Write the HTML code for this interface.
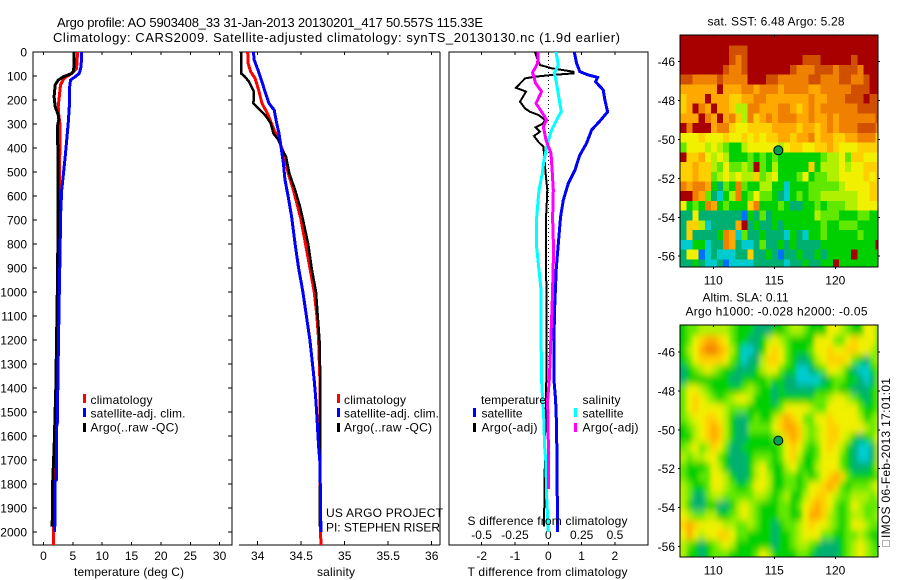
<!DOCTYPE html>
<html>
<head>
<meta charset="utf-8">
<title>Argo profile 5903408_33</title>
<style>
html,body{margin:0;padding:0;background:#fff;}
svg{display:block;}
text{font-family:"Liberation Sans",sans-serif;font-size:12px;fill:#000;}
.ttl{font-size:13px;}
</style>
</head>
<body>
<svg id="chart" xmlns="http://www.w3.org/2000/svg" width="900" height="580" viewBox="0 0 900 580">
  <rect x="0" y="0" width="900" height="580" fill="#fff"/>
  <defs>
    <clipPath id="clipA"><rect x="680" y="35" width="198" height="232"/></clipPath>
    <clipPath id="clipB"><rect x="680" y="325" width="198" height="232"/></clipPath>
    <filter id="smooth" x="-10%" y="-10%" width="120%" height="120%"><feGaussianBlur stdDeviation="2.5 3.8"/></filter>
  </defs>
  <text class="ttl" x="57" y="27" textLength="426" lengthAdjust="spacing">Argo profile: AO 5903408_33 31-Jan-2013 20130201_417 50.557S 115.33E</text>
  <text class="ttl" x="53" y="42" textLength="567" lengthAdjust="spacing">Climatology: CARS2009. Satellite-adjusted climatology: synTS_20130130.nc (1.9d earlier)</text>

  <g id="marks"></g>

  <!-- temperature panel labels -->
  <text x="74" y="576" textLength="110" lengthAdjust="spacing">temperature (deg C)</text>
  <rect x="83" y="394" width="3" height="9" fill="#f00"/>
  <text x="90.5" y="404" textLength="62" lengthAdjust="spacing">climatology</text>
  <rect x="83" y="408" width="3" height="9" fill="#00f"/>
  <text x="90.5" y="417.5" textLength="95" lengthAdjust="spacing">satellite-adj. clim.</text>
  <rect x="83" y="423" width="3" height="9" fill="#000"/>
  <text x="90.5" y="431.5" textLength="88" lengthAdjust="spacing">Argo(..raw -QC)</text>

  <!-- salinity panel labels -->
  <text x="317" y="576" textLength="38" lengthAdjust="spacing">salinity</text>
  <rect x="337" y="394" width="3" height="9" fill="#f00"/>
  <text x="344" y="404" textLength="62" lengthAdjust="spacing">climatology</text>
  <rect x="337" y="408" width="3" height="9" fill="#00f"/>
  <text x="344" y="417.5" textLength="95" lengthAdjust="spacing">satellite-adj. clim.</text>
  <rect x="337" y="423" width="3" height="9" fill="#000"/>
  <text x="344" y="431.5" textLength="88" lengthAdjust="spacing">Argo(..raw -QC)</text>
  <text x="326" y="517" textLength="117" lengthAdjust="spacing">US ARGO PROJECT</text>
  <text x="326" y="531.5" textLength="114" lengthAdjust="spacing">PI: STEPHEN RISER</text>

  <!-- difference panel labels -->
  <text x="481" y="404" textLength="65" lengthAdjust="spacing">temperature</text>
  <rect x="473" y="408" width="3" height="9" fill="#00f"/>
  <text x="481.5" y="417.5" textLength="41" lengthAdjust="spacing">satellite</text>
  <rect x="473" y="423" width="3" height="9" fill="#000"/>
  <text x="481.5" y="431.5" textLength="56" lengthAdjust="spacing">Argo(-adj)</text>
  <text x="582.5" y="404" textLength="38" lengthAdjust="spacing">salinity</text>
  <rect x="574" y="408" width="3" height="9" fill="#0ff"/>
  <text x="582.5" y="417.5" textLength="41" lengthAdjust="spacing">satellite</text>
  <rect x="574" y="423" width="3" height="9" fill="#f0f"/>
  <text x="582.5" y="431.5" textLength="56" lengthAdjust="spacing">Argo(-adj)</text>
  <text x="467.5" y="525" textLength="160" lengthAdjust="spacing">S difference from climatology</text>
  <text x="467.5" y="576" textLength="160" lengthAdjust="spacing">T difference from climatology</text>

  <!-- map titles -->
  <text x="707.5" y="25.5" textLength="137" lengthAdjust="spacing">sat. SST: 6.48 Argo: 5.28</text>
  <text x="702.5" y="301.5" textLength="86" lengthAdjust="spacing">Altim. SLA: 0.11</text>
  <text x="685.5" y="315.5" textLength="182" lengthAdjust="spacing">Argo h1000: -0.028 h2000: -0.05</text>

  <!-- imprint -->
  <rect x="882.5" y="540.5" width="7" height="6" fill="#fff" stroke="#666" stroke-width="1" stroke-dasharray="1 1"/>
  <text transform="translate(890,538) rotate(-90)" x="0" y="0" textLength="160" lengthAdjust="spacing">IMOS 06-Feb-2013 17:01:01</text>
</svg>

<script>
// ---------- depth ticks ----------
const depthTicks = [0,100,200,300,400,500,600,700,800,900,1000,1100,1200,1300,1400,1500,1600,1700,1800,1900,2000];

// ---------- temperature panel data (deg C) ----------
const tempTicks = [0,5,10,15,20,25,30];
const tClimDepth = [0,47,70,89,110,137,186,228,262,300,367,500,800,1100,1400,1700,2000,2054];
const tClimValue = [5.8,5.7,5.6,4.8,3.5,2.9,2.7,2.5,2.6,2.8,2.8,2.75,2.6,2.45,2.2,1.9,1.7,1.67];
const tSatDepth  = [0,60,89,103,117,158,228,297,367,436,505,575,686,800,1000,1200,1367,1546,1560,1780,1790,1960,2000];
const tSatValue  = [6.5,6.4,6.1,5.4,4.6,4.4,4.4,4.2,3.95,3.7,3.4,3.1,2.9,2.85,2.7,2.55,2.45,2.35,2.25,2.25,1.96,1.96,1.85];
const tArgoDepth = [0,60,80,89,103,117,137,186,228,262,283,311,380,394,686,1000,1400,1650,1790,1950,1978];
const tArgoValue = [5.2,5.2,5.1,4.8,3.4,2.5,2.0,1.8,2.0,2.5,2.6,2.35,2.35,2.5,2.5,2.35,2.1,1.8,1.57,1.5,1.4];

// ---------- salinity panel data ----------
const salTicks = [34,34.5,35,35.5,36];
const salLabels = ['34','34.5','35','35.5','36'];
const sClimDepth = [0,47,82,110,158,214,255,325,380,436,505,575,644,693,800,900,1000,1100,1200,1367,2000,2054];
const sClimValue = [33.885,33.89,33.92,33.97,34.01,34.05,34.11,34.19,34.256,34.314,34.35,34.41,34.46,34.494,34.55,34.60,34.65,34.68,34.70,34.715,34.72,34.73];
const sSatDepth  = [0,33,82,124,165,214,242,297,339,394,464,533,603,686,800,900,1000,1100,1200,1300,1367,1436,1506,1644,1714,2000];
const sSatValue  = [33.95,33.96,34.01,34.05,34.084,34.13,34.19,34.218,34.245,34.268,34.295,34.314,34.35,34.39,34.43,34.47,34.52,34.56,34.60,34.63,34.65,34.665,34.678,34.70,34.716,34.727];
const sArgoDepth = [0,82,89,103,124,165,214,235,262,297,339,367,408,436,505,575,644,693,800,900,1000,1100,1200,1367,1644,1978];
const sArgoValue = [33.808,33.808,33.808,33.854,33.90,33.957,33.95,34.01,34.084,34.15,34.18,34.24,34.28,34.325,34.363,34.43,34.486,34.517,34.58,34.62,34.67,34.69,34.71,34.72,34.72,34.713];

// ---------- difference panel data ----------
const tDiffTicks = [-2,-1,0,1,2];
const sDiffTicks = [-0.5,-0.25,0,0.25,0.5];
const sDiffLabels = ['-0.5','-0.25','0','0.25','0.5'];
const dTSatDepth = [0,47,82,96,106,124,158,200,249,283,325,380,429,492,547,617,686,800,900,1100,1367,1450,1560,2000];
const dTSatValue = [0.78,0.85,0.95,1.2,1.48,1.42,1.65,1.7,1.78,1.58,1.3,1.15,0.95,0.8,0.6,0.45,0.37,0.3,0.24,0.18,0.17,0.22,0.25,0.28];
const dTArgoDepth = [0,33,54,68,82,89,96,103,110,124,149,165,207,235,249,262,283,297,314,332,350,374,394,436,505,575,644,693,1000,1367,1640,1800,1978];
const dTArgoValue = [-0.4,-0.32,-0.25,0.1,0.75,0.75,0.1,-0.4,-0.7,-0.8,-0.97,-0.67,-0.85,-0.7,-0.55,-0.3,-0.1,-0.15,-0.38,-0.25,-0.43,-0.3,-0.15,-0.12,-0.08,-0.03,-0.05,-0.07,-0.06,-0.06,-0.1,-0.11,-0.13];
const dSSatDepth = [0,54,89,117,200,249,269,325,380,450,505,575,693,800,990,1158,1367,1450,1506,1644,1714,1850,2000];
const dSSatValue = [0.0575,0.075,0.045,0.0575,0.0825,0.0975,0.075,0.025,-0.005,-0.0325,-0.045,-0.07,-0.0875,-0.09,-0.055,-0.055,-0.05,-0.0425,-0.035,-0.0275,-0.0175,-0.0125,0];
const dSArgoDepth = [0,47,86,130,165,214,249,283,311,367,422,505,575,693,825,1033,1367,1450,1700,1820];
const dSArgoValue = [-0.075,-0.08,-0.1175,-0.095,-0.05,-0.0925,-0.05,-0.0125,-0.0375,-0.0175,0.02,0.03,0.0375,0.0325,0.04,0.03,0.0075,-0.005,0.0025,0.0025];

// ---------- map axes ----------
const lonTicks = [110,115,120];
const latTicks = [-46,-48,-50,-52,-54,-56];
const argoLon = [115.33];
const argoLat = [-50.557];
const gridLonStart = [107.3];
const gridLatStart = [-44.66];
const gridStep = [0.5];

// ---------- satellite SST grid (one hex digit per cell, north to south) ----------
const sstRows = [
"ccccccccccccccccccccccccccccccccc",
"ccccccccbbbcccccccccccccccccccccc",
"ccccccccbabcccccccccbbbcccccbcccc",
"cccccccbaabcccccccbaaabbbabbbaccc",
"bbaaaabaaaacccbbaaaaabbaaabbaabcc",
"999999c999aa9aaa9aaaa99aaaaabbbcc",
"8999c9998899aa9999999a99aaabbbcbb",
"89ca9c99866aa999aa989a9aaaaaabbbb",
"999ca9c9a86a89a9aaa99a99a9aaaaaab",
"caccc9aa8778888999989989a9aaabbba",
"777877787787878899899a8998899aaa8",
"577767654467777767887788987778888",
"c88976764445454544444445667588777",
"889886575565c54644444846667677888",
"889885676766856744457455667777878",
"a9aa94354a54466442444555556777788",
"cca953246a45755432454556666667788",
"7454a9454448a44454334454555667777",
"337333333314353444444465554445544",
"3886233339c3433434444445445554444",
"3833334a9253343332432445444445444",
"2244233a932235334343333444444444c",
"3771232223383343133433434444c4444",
"3343223122223333323343344c4444444"
];

// ---------- altimetry SLA grid (one hex digit per cell, north to south) ----------
const slaRows = [
"455666665444333445665444776544775",
"457899875443346765444477755787775",
"4679aa986422347875444577877887765",
"457888875423368875433467888754356",
"345676544333467754422345776432245",
"344444443344445443322223455443235",
"577654444456544343333344454433345",
"578765456776444344444455677654345",
"578777765554444457777655777775445",
"567788764334544689875577877776456",
"456789864335555789986567887777656",
"446789864334444568986567887643457",
"567568753344444457875457876432236",
"656677543334555457864457775432236",
"544457643334675446754467775433346",
"544557764334676445545457898544445",
"654457765445776445545778985455567",
"653356655555665456446788765566656",
"643344334676544455457898754576555",
"765566445676544455447998654566556",
"898777766556544345567877654577655",
"797677887554444344567775544556544",
"654345676444444344566543334567654",
"644345554444576444455433334567655"
];

// ---------- colour scale ----------
const palette = ['#0000c8','#0070ff','#00ccd0','#00b070','#00d000','#60e800','#b0f000','#f0f000','#ffd000','#ffa800','#f08000','#d05000','#a80000'];

// ---------- axis functions ----------
const yDepth = d => 52 + d * 0.24;
const xTemp = v => 43.5 + v * 5.87;
const xSal = v => 257.7 + (v - 34) * 87;
const xDT = v => 548.3 + v * 33.3;
const xDS = v => 548.3 + v * 133.3;
const lonX = v => 713.3 + (v - 110) * 12.2;
const latYA = v => 61.7 + (-46 - v) * 19.45;
const latYB = v => 352 + (-46 - v) * 19.45;

const svgNS = 'http://www.w3.org/2000/svg';
const marks = document.getElementById('marks');

function mk(tag, attrs, parent) {
  const el = document.createElementNS(svgNS, tag);
  for (const k in attrs) el.setAttribute(k, attrs[k]);
  (parent || marks).appendChild(el);
  return el;
}

function segment(x1, y1, x2, y2, name) {
  const el = mk('line', {x1: x1, y1: y1, x2: x2, y2: y2, stroke: '#000', 'stroke-width': 1, 'shape-rendering': 'crispEdges'});
  
  
  return el;
}

function label(x, y, str, anchor, name) {
  const el = mk('text', {x: x, y: y, 'text-anchor': anchor});
  el.textContent = str;
  
  
  return el;
}

function curve(depths, values, xFn, color, width, name) {
  const pts = depths.map((d, i) => xFn(values[i]).toFixed(1) + ',' + yDepth(d).toFixed(1)).join(' ');
  const el = mk('polyline', {points: pts, fill: 'none', stroke: color, 'stroke-width': width, 'stroke-linejoin': 'miter', 'shape-rendering': 'crispEdges'});
  
  
  return el;
}

function heatmap(rows, latFn, clipId, smooth, name) {
  const clip = mk('g', {'clip-path': 'url(#' + clipId + ')'});
  
  
  const g = mk('g', smooth ? {filter: 'url(#smooth)'} : {'shape-rendering': 'crispEdges'}, clip);
  
  
  rows.forEach((row, r) => {
    for (let c = 0; c < row.length; c++) {
      const lon = gridLonStart[0] + c * gridStep[0];
      const lat = gridLatStart[0] - r * gridStep[0];
      let x0 = lonX(lon), x1 = lonX(lon + gridStep[0]);
      let y0 = latFn(lat), y1 = latFn(lat - gridStep[0]);
      if (c === 0) x0 -= 15;
      if (c === row.length - 1) x1 += 15;
      if (r === 0) y0 -= 15;
      if (r === rows.length - 1) y1 += 15;
      const cell = mk('rect', {x: x0.toFixed(1), y: y0.toFixed(1), width: (x1 - x0 + 0.5).toFixed(1), height: (y1 - y0 + 0.5).toFixed(1), fill: palette[parseInt(row[c], 16)], 'shape-rendering': 'crispEdges'}, g);
      
      
    }
  });
}

function frame(l, t, r, b, name) {
  const el = mk('rect', {x: l, y: t, width: r - l, height: b - t, fill: 'none', stroke: '#000', 'stroke-width': 1, 'shape-rendering': 'crispEdges'});
  
  
  return el;
}

// ---------- panel 1: temperature ----------
frame(33, 52, 232, 545, 'temperature-panel-frame');
depthTicks.forEach(d => {
  segment(33, yDepth(d), 37, yDepth(d), 'depth-tick-left');
  segment(228, yDepth(d), 232, yDepth(d), 'depth-tick-right');
  label(27, yDepth(d) + 4.5, String(d), 'end', 'depth-tick-label');
});
tempTicks.forEach(v => {
  segment(xTemp(v), 52, xTemp(v), 55, 'temperature-tick-top');
  segment(xTemp(v), 545, xTemp(v), 542, 'temperature-tick-bottom');
  label(xTemp(v), 560, String(v), 'middle', 'temperature-tick-label');
});
curve(tClimDepth, tClimValue, xTemp, '#f00', 3, 'temperature-climatology-line');
curve(tArgoDepth, tArgoValue, xTemp, '#000', 3, 'temperature-argo-line');
curve(tSatDepth, tSatValue, xTemp, '#00f', 3, 'temperature-satellite-line');

// ---------- panel 2: salinity (open left side) ----------
segment(239, 52, 440, 52, 'salinity-panel-top');
segment(239, 545, 440, 545, 'salinity-panel-bottom');
segment(440, 52, 440, 545, 'salinity-panel-right');
salTicks.forEach((v, i) => {
  segment(xSal(v), 52, xSal(v), 55, 'salinity-tick-top');
  segment(xSal(v), 545, xSal(v), 541, 'salinity-tick-bottom');
  label(xSal(v), 560, salLabels[i], 'middle', 'salinity-tick-label');
});
curve(sClimDepth, sClimValue, xSal, '#f00', 3, 'salinity-climatology-line');
curve(sArgoDepth, sArgoValue, xSal, '#000', 2.5, 'salinity-argo-line');
curve(sSatDepth, sSatValue, xSal, '#00f', 3, 'salinity-satellite-line');

// ---------- panel 3: differences ----------
frame(449, 52, 648, 545, 'difference-panel-frame');
tDiffTicks.forEach(v => {
  segment(xDT(v), 52, xDT(v), 55, 'difference-tick-top');
  label(xDT(v), 560, String(v), 'middle', 'temperature-difference-tick-label');
});
sDiffTicks.forEach((v, i) => {
  segment(xDS(v), 545, xDS(v), 542, 'difference-tick-bottom');
  label(xDS(v), 539, sDiffLabels[i], 'middle', 'salinity-difference-tick-label');
});
const zeroLine = mk('line', {x1: xDT(0), y1: 52, x2: xDT(0), y2: 400, stroke: '#000', 'stroke-width': 1, 'stroke-dasharray': '1 3', 'shape-rendering': 'crispEdges'});


curve(dTSatDepth, dTSatValue, xDT, '#00f', 3, 'difference-t-satellite-line');
curve(dTArgoDepth, dTArgoValue, xDT, '#000', 2, 'difference-t-argo-line');
curve(dSSatDepth, dSSatValue, xDS, '#0ff', 3, 'difference-s-satellite-line');
curve(dSArgoDepth, dSArgoValue, xDS, '#f0f', 3, 'difference-s-argo-line');

// ---------- maps ----------
function drawMap(rows, latFn, top, bottom, clipId, smooth, name) {
  heatmap(rows, latFn, clipId, smooth, name + '-heatmap');
  frame(680, top, 878, bottom, name + '-frame');
  lonTicks.forEach(v => {
    segment(lonX(v), top, lonX(v), top + 2, name + '-lon-tick-top');
    segment(lonX(v), bottom, lonX(v), bottom + 2, name + '-lon-tick-bottom');
    label(lonX(v), bottom + 17.5, String(v), 'middle', name + '-lon-label');
  });
  latTicks.forEach(v => {
    segment(678, latFn(v), 680, latFn(v), name + '-lat-tick-left');
    segment(878, latFn(v), 880, latFn(v), name + '-lat-tick-right');
    label(675, latFn(v) + 4.5, String(v), 'end', name + '-lat-label');
  });
  const dot = mk('circle', {cx: lonX(argoLon[0]).toFixed(1), cy: latFn(argoLat[0]).toFixed(1), r: 4.5, fill: '#00a050', stroke: '#000', 'stroke-width': 1});
  
  
}
drawMap(sstRows, latYA, 35, 267, 'clipA', false, 'sst-map');
drawMap(slaRows, latYB, 325, 557, 'clipB', true, 'altimetry-map');
</script>
</body>
</html>
